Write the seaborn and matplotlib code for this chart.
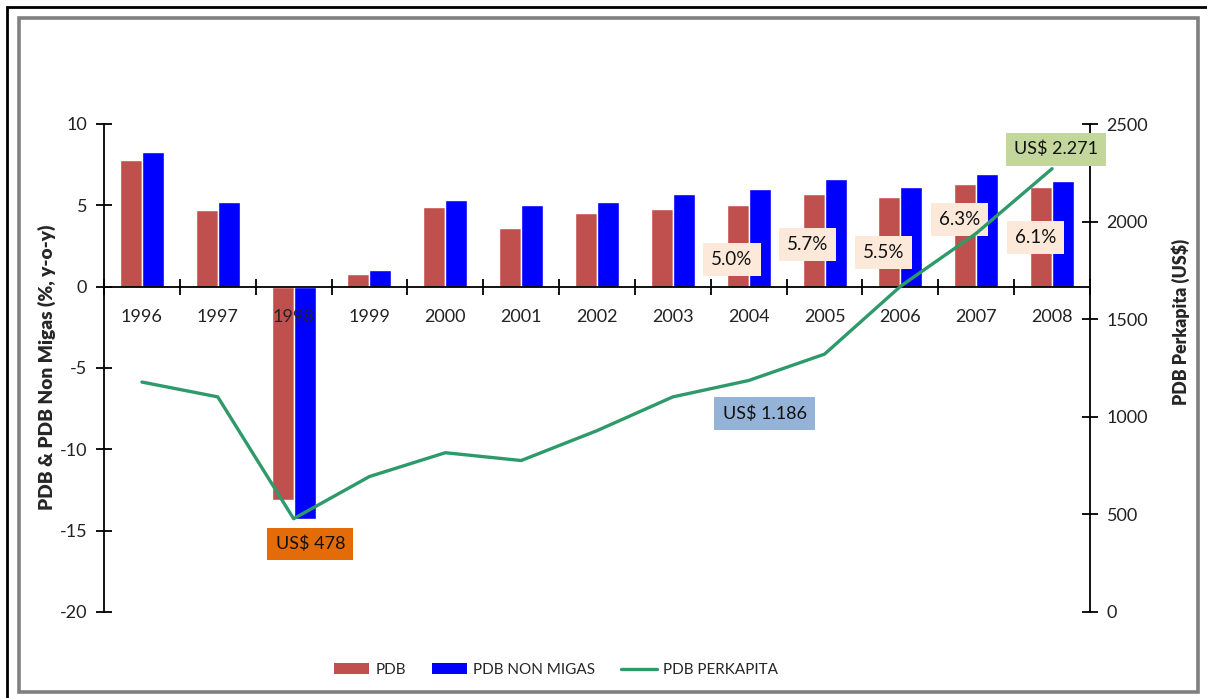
import numpy as np
import pandas as pd
import matplotlib
matplotlib.use("Agg")
import matplotlib.pyplot as plt
import seaborn as sns
from matplotlib.patches import Rectangle, Patch
from matplotlib.lines import Line2D
from matplotlib.ticker import FixedLocator

# ---- data ----
years = ["1996", "1997", "1998", "1999", "2000", "2001", "2002",
         "2003", "2004", "2005", "2006", "2007", "2008"]
pdb = [7.8, 4.7, -13.1, 0.8, 4.9, 3.6, 4.5, 4.8, 5.0, 5.7, 5.5, 6.3, 6.1]
pdb_non_migas = [8.3, 5.2, -14.3, 1.0, 5.3, 5.0, 5.2, 5.7, 6.0, 6.6, 6.1, 6.9, 6.5]
pdb_perkapita = [1178, 1102, 478, 694, 816, 776, 929, 1102, 1186, 1321, 1668, 1940, 2271]
series_names = ["PDB", "PDB NON MIGAS", "PDB PERKAPITA"]
pct_labels = ["5.0%", "5.7%", "5.5%", "6.3%", "6.1%"]
pct_years = ["2004", "2005", "2006", "2007", "2008"]
pct_ypos = [1.66, 2.58, 2.09, 4.11, 3.0]
usd_labels = ["US$ 478", "US$ 1.186", "US$ 2.271"]
usd_years = ["1998", "2004", "2008"]

RED = "#C0504D"
BLUE = "#0000FF"
GREEN = "#2E9A6A"

sns.set_theme(style="white")
plt.rcParams["font.family"] = ["Lato", "DejaVu Sans"]
plt.rcParams["axes.unicode_minus"] = False

W, H = 1207, 698
fig = plt.figure(figsize=(W / 100, H / 100), dpi=100)
ax = fig.add_axes([104 / W, 1 - 612 / H, (1090 - 104) / W, (612 - 124) / H])

df = pd.DataFrame({
    "year": years * 2,
    "value": pdb + pdb_non_migas,
    "series": [series_names[0]] * len(years) + [series_names[1]] * len(years),
})
sns.barplot(data=df, x="year", y="value", hue="series",
            palette=[RED, BLUE], width=0.58, saturation=1,
            ax=ax, legend=False)
ax.set_axisbelow(False)
ax.set_xlim(-0.5, len(years) - 0.5)
ax.set_ylim(-20, 10)
ax.set_yticks([-20, -15, -10, -5, 0, 5, 10])
ax.set_xlabel("")
ax.set_ylabel("PDB & PDB Non Migas (%, y-o-y)", fontsize=13.8,
              fontweight="heavy")
ax.yaxis.set_label_coords(-0.049, 0.502)

for s in ["top", "right"]:
    ax.spines[s].set_visible(False)
ax.spines["bottom"].set_position(("data", 0))
for s in ["left", "bottom"]:
    ax.spines[s].set_color("black")
    ax.spines[s].set_linewidth(1.3)

ax.xaxis.set_minor_locator(FixedLocator(np.arange(-0.5, len(years), 1.0)))
ax.tick_params(axis="x", which="major", length=0, pad=16, labelsize=13,
               colors="#222222")
ax.tick_params(axis="x", which="minor", direction="inout", length=12,
               width=1.3, color="black", bottom=True)
ax.tick_params(axis="y", direction="inout", length=12, width=1.3,
               color="black", left=True, labelsize=13, pad=6,
               labelcolor="#222222")

# twin axis for per-capita line
ax2 = ax.twinx()
sns.lineplot(x=np.arange(len(years)), y=pdb_perkapita, color=GREEN,
             linewidth=2.4, ax=ax2)
ax2.set_ylim(0, 2500)
ax2.set_yticks([0, 500, 1000, 1500, 2000, 2500])
ax2.set_xlim(-0.5, len(years) - 0.5)
ax2.set_ylabel("PDB Perkapita (US$)", fontsize=12.8, fontweight="heavy")
ax2.yaxis.set_label_coords(1.083, 0.594)
for s in ["top", "left", "bottom"]:
    ax2.spines[s].set_visible(False)
ax2.spines["right"].set_color("black")
ax2.spines["right"].set_linewidth(1.3)
ax2.tick_params(axis="y", direction="inout", length=12, width=1.3,
                color="black", right=True, labelsize=13, pad=6,
                labelcolor="#222222")
ax2.grid(False)
ax.grid(False)

# percentage labels
for lab, yr, yp in zip(pct_labels, pct_years, pct_ypos):
    xi = years.index(yr) - 0.22
    ax.text(xi, yp, lab, ha="center", va="center", fontsize=13.5,
            color="#111111", zorder=5,
            bbox=dict(boxstyle="square,pad=0.42", fc="#FDE9D9", ec="none"))

# US$ labels
usd_offsets = [(0.22, -130), (0.21, -170), (0.05, 100)]
usd_colors = ["#E36C09", "#95B3D7", "#C3D69B"]
for lab, yr, (dx, dy), c in zip(usd_labels, usd_years, usd_offsets, usd_colors):
    i = years.index(yr)
    ax2.text(i + dx, pdb_perkapita[i] + dy, lab, ha="center", va="center",
             fontsize=13, color="#111111", zorder=6,
             bbox=dict(boxstyle="square,pad=0.45", fc=c, ec="none"))

# legend
handles = [Patch(facecolor=RED, edgecolor="none"),
           Patch(facecolor=BLUE, edgecolor="none"),
           Line2D([0], [0], color=GREEN, linewidth=2.4)]
fig.legend(handles, series_names, loc="center", bbox_to_anchor=(556 / W, 1 - 670 / H),
           ncol=3, frameon=False, fontsize=11, handlelength=2.3,
           handleheight=0.75, columnspacing=1.7, handletextpad=0.4)

# frames
fig.patches.append(Rectangle((7 / W, -0.05), 1.2, 1 - 7 / H + 0.05,
                             transform=fig.transFigure, fill=False,
                             ec="black", lw=2.0))
fig.patches.append(Rectangle((19 / W, 1 - 692 / H), (1198 - 19) / W,
                             (692 - 18) / H, transform=fig.transFigure,
                             fill=False, ec="#808080", lw=2.6))

fig.savefig("out.png", dpi=100)
